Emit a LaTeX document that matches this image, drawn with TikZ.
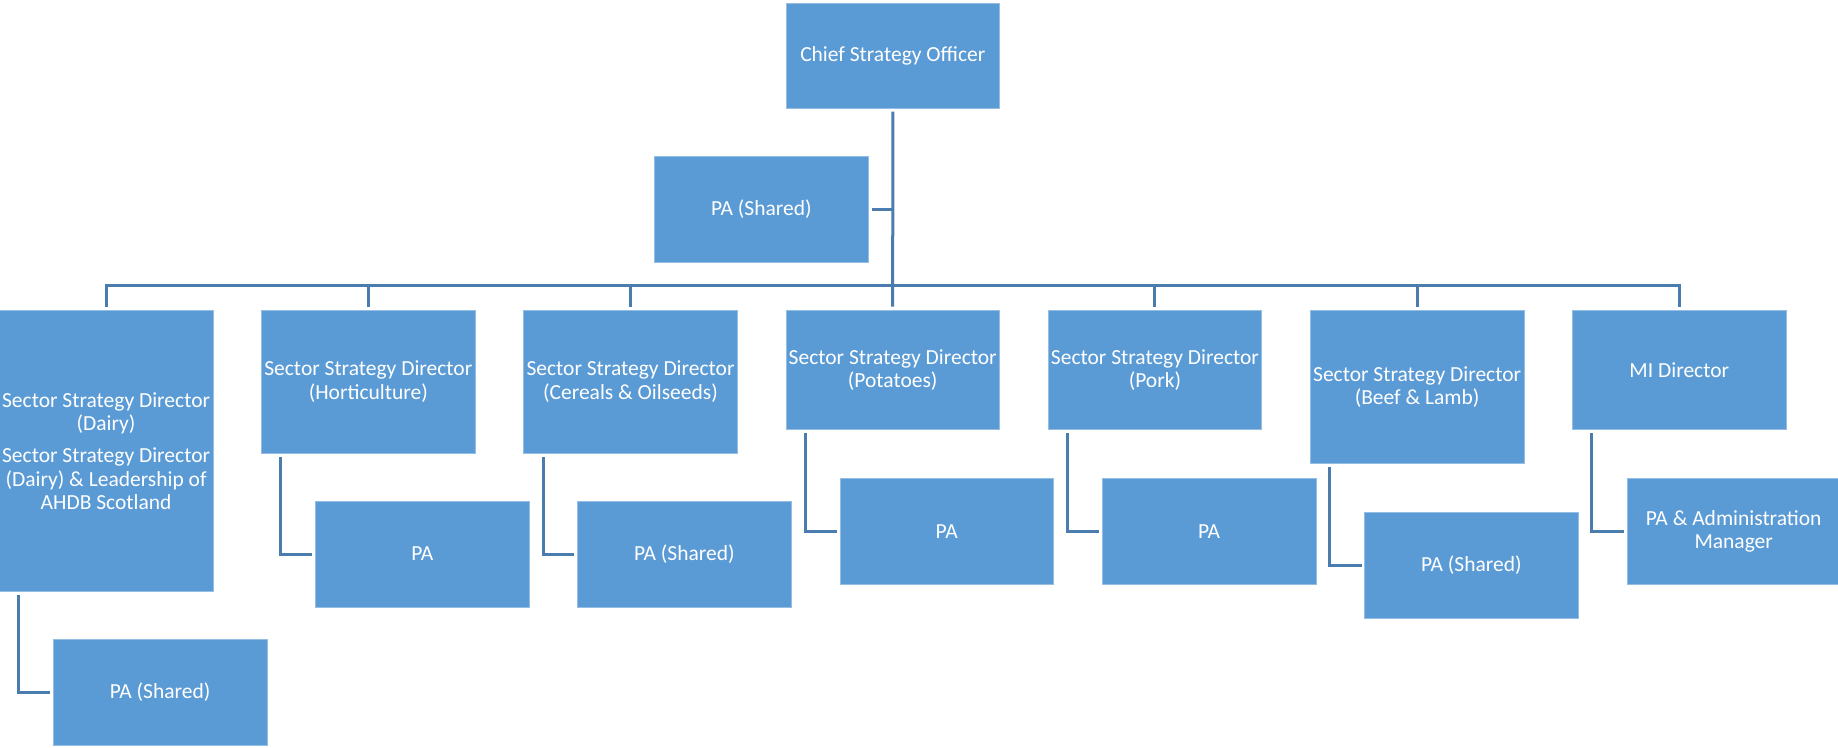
\documentclass[tikz,border=0pt]{standalone}
\usepackage{fontspec}
\setmainfont{Carlito}
\definecolor{boxfill}{HTML}{5B9BD5}
\definecolor{connc}{HTML}{4A7DAE}
\tikzset{
  orgbox/.style={rectangle, fill=boxfill, draw=white!35!boxfill, line width=0.6pt,
    minimum width=213.6pt, inner sep=0pt, anchor=north west, align=center,
    text=white, font=\fontsize{21.5}{23.5}\selectfont},
  conn/.style={draw=connc, line width=3pt}
}
\begin{document}
\begin{tikzpicture}[x=1pt,y=-1pt]
\useasboundingbox (0,0) rectangle (1838,747);
% top
\node[orgbox, minimum height=105pt] (chief) at (785.7,2.7) {Chief Strategy Officer};
\node[orgbox, minimum height=105.4pt] (patop) at (654.3,156.3) {PA (Shared)};
% directors
\node[orgbox, minimum height=280.7pt] (d1) at (-1,310.3) {Sector Strategy Director\\(Dairy)\\[8.5pt]Sector Strategy Director\\(Dairy) \& Leadership of\\AHDB Scotland};
\node[orgbox, minimum height=142.4pt] (d2) at (261.2,310.3) {Sector Strategy Director\\(Horticulture)};
\node[orgbox, minimum height=142.4pt] (d3) at (523.4,310.3) {Sector Strategy Director\\(Cereals \& Oilseeds)};
\node[orgbox, minimum height=119pt] (d4) at (785.6,310.3) {Sector Strategy Director\\(Potatoes)};
\node[orgbox, minimum height=119pt] (d5) at (1047.8,310.3) {Sector Strategy Director\\(Pork)};
\node[orgbox, minimum height=152.7pt] (d6) at (1310,310.3) {Sector Strategy Director\\(Beef \& Lamb)};
\node[orgbox, minimum height=119pt] (d7) at (1572.2,310.3) {MI Director};
% assistants
\node[orgbox, minimum height=105.5pt] (a1) at (53,639.3) {PA (Shared)};
\node[orgbox, minimum height=105.5pt] (a2) at (315.2,501) {PA};
\node[orgbox, minimum height=105.5pt] (a3) at (577.2,501) {PA (Shared)};
\node[orgbox, minimum height=105.5pt] (a4) at (839.6,478.3) {PA};
\node[orgbox, minimum height=105.5pt] (a5) at (1102,478.3) {PA};
\node[orgbox, minimum height=105.5pt] (a6) at (1364.3,512) {PA (Shared)};
\node[orgbox, minimum height=105.5pt] (a7) at (1626.6,478.3) {PA \& Administration\\Manager};
% connectors: top
\draw[conn, shorten <=3.3pt, shorten >=3.6pt] (chief.south) -- (d4.north);
\draw[conn] ([xshift=3pt]patop.east) -- (patop.east -| chief.south);
% bus
\draw[conn] ([yshift=3.6pt]d1.north) |- ([yshift=24.6pt]d7.north) -- ([yshift=3.6pt]d7.north);
\foreach \d in {d2,d3,d5,d6}{
  \draw[conn] ([yshift=24.6pt]\d.north) -- ([yshift=3.6pt]\d.north);
}
% director to assistant
\foreach \d/\a in {d1/a1,d2/a2,d3/a3,d4/a4,d5/a5,d6/a6,d7/a7}{
  \draw[conn] ([xshift=19.7pt,yshift=-3.5pt]\d.south west) |- ([xshift=-2.8pt]\a.west);
}
\end{tikzpicture}
\end{document}
